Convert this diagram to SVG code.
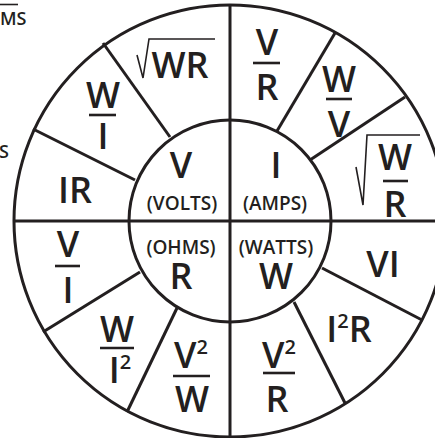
<svg xmlns="http://www.w3.org/2000/svg" width="435" height="438" viewBox="0 0 435 438">
<style>
.ln{stroke:#231f20;stroke-width:3;fill:none}
.th{stroke:#231f20;stroke-width:1.6;fill:none}
.bar{stroke:#231f20;stroke-width:2.6}
text{font-family:"Open Sans","Noto Sans",sans-serif;font-weight:600;fill:#231f20;text-anchor:middle}
.b{font-size:36px}
.m{font-size:19px}
.s{font-size:18px;text-anchor:start;font-weight:600}
.sup{font-size:20px}
</style>
<rect width="435" height="438" fill="#fff"/>
<g id="cut-text">
<line class="th" x1="0" y1="4.5" x2="18" y2="4.5"/>
<text class="s" x="0" y="25">MS</text>
<text class="s" x="-1" y="158">S</text>
</g>
<g id="connectors">
<circle class="ln" cx="230" cy="221" r="216"/>
<circle class="ln" cx="230" cy="221" r="101"/>
<line class="ln" x1="230" y1="5" x2="230" y2="437"/>
<line class="ln" x1="14" y1="221" x2="446" y2="221"/>
<line class="ln" x1="277" y1="131" x2="335" y2="33"/>
<line class="ln" x1="310" y1="160" x2="405" y2="97"/>
<line class="ln" x1="170" y1="137" x2="103" y2="43"/>
<line class="ln" x1="135" y1="180" x2="33" y2="129"/>
<line class="ln" x1="140" y1="272" x2="43" y2="332"/>
<line class="ln" x1="177" y1="308" x2="127" y2="412"/>
<line class="ln" x1="294" y1="302" x2="345" y2="403"/>
<line class="ln" x1="322" y1="268" x2="422" y2="320"/>
</g>
<g id="volts"><text class="b" x="181" y="178">V</text><text class="m" x="182" y="210">(VOLTS)</text></g>
<g id="amps"><text class="b" x="276" y="178">I</text><text class="m" x="275" y="210">(AMPS)</text></g>
<g id="ohms"><text class="m" x="181" y="254">(OHMS)</text><text class="b" x="181" y="289">R</text></g>
<g id="watts"><text class="m" x="276" y="254">(WATTS)</text><text class="b" x="276" y="289">W</text></g>
<g id="sqrtWR">
<polyline class="th" points="137,55 143,78 149,39 215,39"/>
<text class="b" x="180" y="78">WR</text>
</g>
<g id="VoverR"><text class="b" x="267" y="55">V</text><line class="bar" x1="253" y1="63" x2="280" y2="63"/><text class="b" x="267" y="100">R</text></g>
<g id="WoverV"><text class="b" x="339" y="92">W</text><line class="bar" x1="326" y1="99" x2="352" y2="99"/><text class="b" x="339" y="137">V</text></g>
<g id="sqrtWoverR">
<polyline class="th" points="356,167 363,205 367,135 420,135"/>
<text class="b" x="395" y="170">W</text><line class="bar" x1="383" y1="181" x2="408" y2="181"/><text class="b" x="395" y="217">R</text>
</g>
<g id="VI"><text class="b" x="383" y="277">VI</text></g>
<g id="I2R"><text class="b" x="349" y="342">I<tspan class="sup" dy="-14">2</tspan><tspan dy="14">R</tspan></text></g>
<g id="V2overR"><text class="b" x="279" y="368">V<tspan class="sup" dy="-14">2</tspan></text><line class="bar" x1="263" y1="373" x2="295" y2="373"/><text class="b" x="277" y="412">R</text></g>
<g id="V2overW"><text class="b" x="191" y="368">V<tspan class="sup" dy="-14">2</tspan></text><line class="bar" x1="173" y1="376" x2="210" y2="376"/><text class="b" x="192" y="412">W</text></g>
<g id="WoverI2"><text class="b" x="117" y="342">W</text><line class="bar" x1="100" y1="348" x2="134" y2="348"/><text class="b" x="120" y="383">I<tspan class="sup" dy="-14">2</tspan></text></g>
<g id="VoverI"><text class="b" x="68" y="257">V</text><line class="bar" x1="55" y1="266" x2="80" y2="266"/><text class="b" x="68" y="303">I</text></g>
<g id="IR"><text class="b" x="75" y="203">IR</text></g>
<g id="WoverI"><text class="b" x="103" y="108">W</text><line class="bar" x1="89" y1="115" x2="116" y2="115"/><text class="b" x="103" y="149">I</text></g>
</svg>
